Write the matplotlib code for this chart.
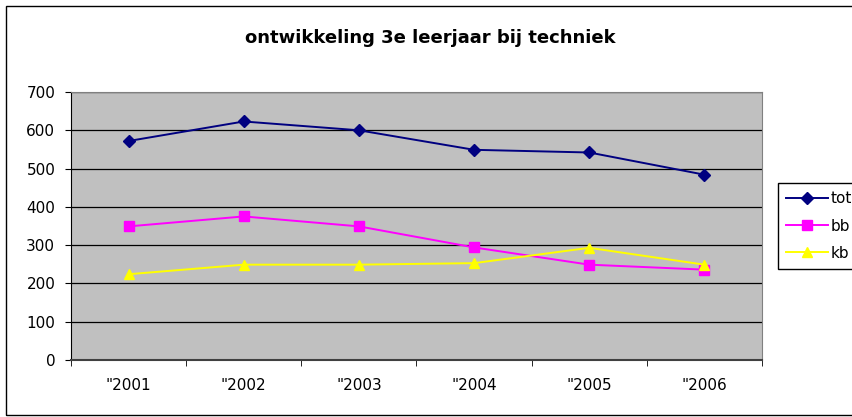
import matplotlib.pyplot as plt
from matplotlib.patches import Rectangle

plt.rcParams['font.family'] = ['DejaVu Sans']

jaren = ['"2001', '"2002', '"2003', '"2004', '"2005', '"2006']
tot = [572, 623, 600, 549, 542, 484]
bb = [349, 375, 349, 294, 249, 236]
kb = [224, 249, 249, 253, 293, 249]

W, H = 853, 417
fig = plt.figure(figsize=(W / 100, H / 100), dpi=100)

# plotgebied zoals in Excel
ax = fig.add_axes([71 / W, (H - 360) / H, (762 - 71) / W, (360 - 92) / H])
ax.set_facecolor('#C0C0C0')

x = list(range(len(jaren)))
ax.plot(x, tot, color='#000080', marker='D', markersize=6, linewidth=1.4, label='tot')
ax.plot(x, bb, color='#FF00FF', marker='s', markersize=6.5, linewidth=1.4, label='bb')
ax.plot(x, kb, color='#FFFF00', marker='^', markersize=7.5, linewidth=1.4, label='kb')

ax.set_xlim(-0.5, len(jaren) - 0.5)
ax.set_ylim(0, 700)
ax.set_yticks(range(0, 701, 100))
ax.grid(axis='y', color='black', linewidth=0.9)
ax.set_axisbelow(True)

# categorielabels in het midden, streepjes op de grenzen
ax.set_xticks(x)
ax.set_xticklabels(jaren, fontsize=11)
ax.tick_params(axis='x', which='major', length=0, pad=13)
ax.set_xticks([i - 0.5 for i in range(len(jaren) + 1)], minor=True)
ax.tick_params(axis='x', which='minor', length=4, direction='out', color='black')
ax.tick_params(axis='y', length=4.3, direction='out', labelsize=11, pad=7)

ax.spines['left'].set_color('black')
ax.spines['bottom'].set_color('#404040')
ax.spines['bottom'].set_linewidth(1.5)
ax.spines['top'].set_color('#808080')
ax.spines['right'].set_color('#808080')

fig.text(430 / W, 1 - 38 / H, 'ontwikkeling 3e leerjaar bij techniek',
         ha='center', va='center', fontsize=13, fontweight='bold')

leg = fig.legend(loc='upper left', bbox_to_anchor=(778 / W, 1 - 183 / H),
                 fontsize=11, fancybox=False, edgecolor='black', framealpha=1,
                 handlelength=2.75, handletextpad=0.15, borderpad=0.55,
                 labelspacing=0.8, borderaxespad=0)
leg.get_frame().set_linewidth(1)

# rand om de hele grafiek
fig.patches.append(Rectangle((6 / W, 2 / H), 860 / W, (H - 8) / H,
                             transform=fig.transFigure, fill=False,
                             edgecolor='black', linewidth=1))

fig.savefig('out.png', dpi=100)
